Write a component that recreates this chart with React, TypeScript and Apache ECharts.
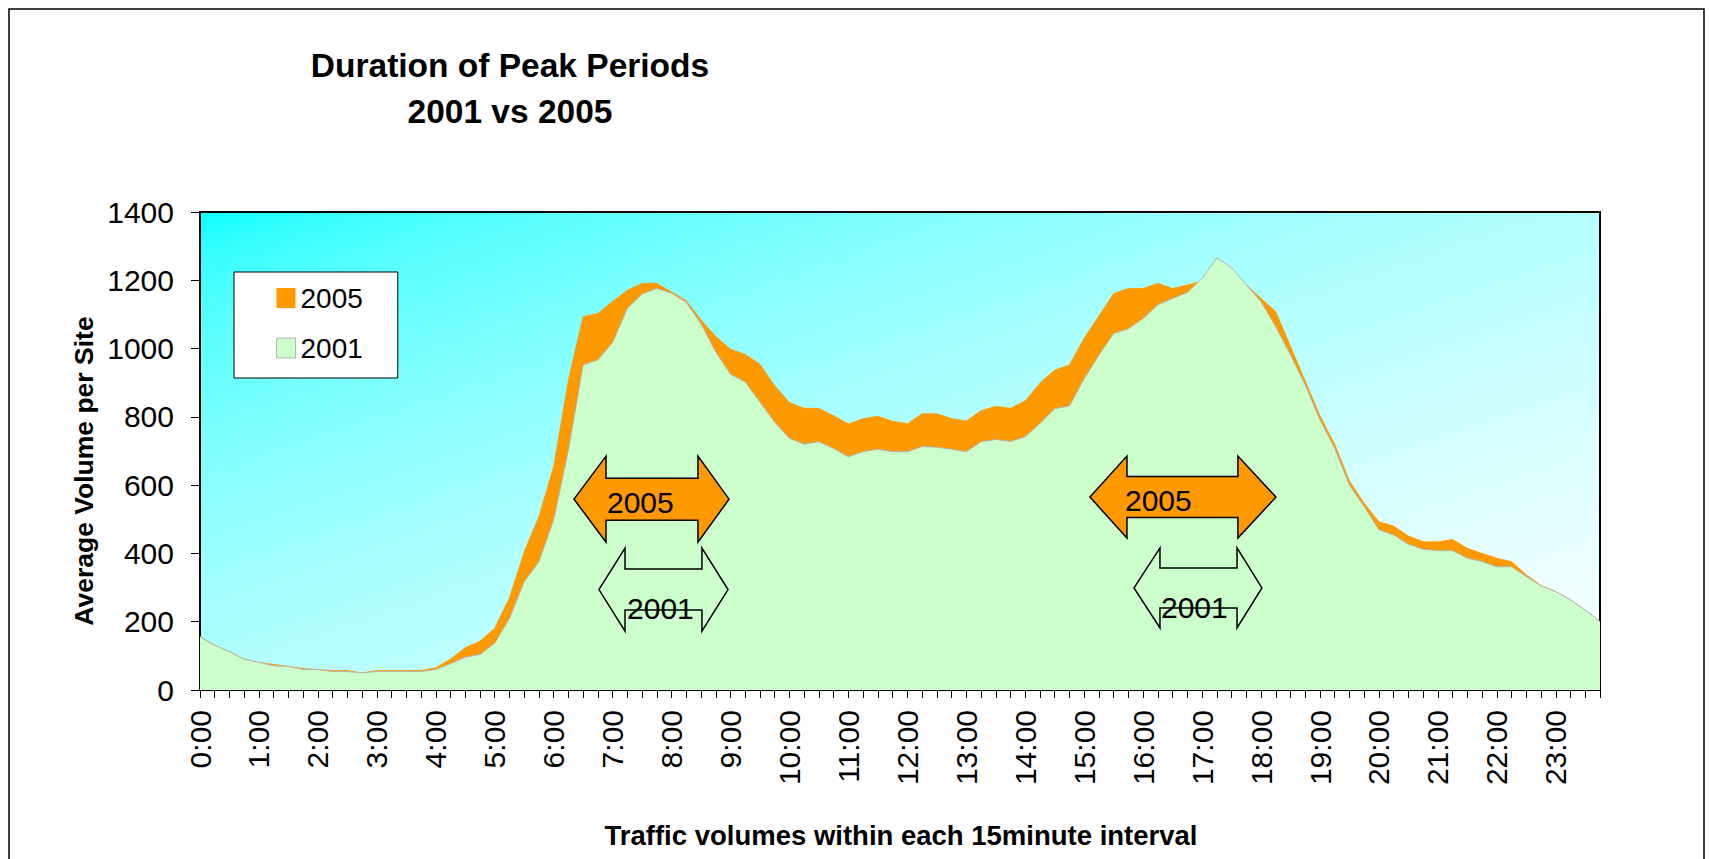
import React, { useEffect, useRef } from "react";
import * as echarts from "echarts";

const TIMES: string[] = [
  "0:00", "0:15", "0:30", "0:45", "1:00", "1:15", "1:30", "1:45",
  "2:00", "2:15", "2:30", "2:45", "3:00", "3:15", "3:30", "3:45",
  "4:00", "4:15", "4:30", "4:45", "5:00", "5:15", "5:30", "5:45",
  "6:00", "6:15", "6:30", "6:45", "7:00", "7:15", "7:30", "7:45",
  "8:00", "8:15", "8:30", "8:45", "9:00", "9:15", "9:30", "9:45",
  "10:00", "10:15", "10:30", "10:45", "11:00", "11:15", "11:30", "11:45",
  "12:00", "12:15", "12:30", "12:45", "13:00", "13:15", "13:30", "13:45",
  "14:00", "14:15", "14:30", "14:45", "15:00", "15:15", "15:30", "15:45",
  "16:00", "16:15", "16:30", "16:45", "17:00", "17:15", "17:30", "17:45",
  "18:00", "18:15", "18:30", "18:45", "19:00", "19:15", "19:30", "19:45",
  "20:00", "20:15", "20:30", "20:45", "21:00", "21:15", "21:30", "21:45",
  "22:00", "22:15", "22:30", "22:45", "23:00", "23:15", "23:30", "23:45",
];

const VOLUME_2005: number[] = [
  156, 131, 112, 90, 81, 75, 69, 63, 60, 57,
  57, 50, 57, 57, 57, 57, 65, 91, 124, 143,
  181, 270, 405, 508, 654, 908, 1094, 1103, 1138, 1171,
  1191, 1191, 1166, 1140, 1084, 1035, 998, 983, 954, 891,
  842, 825, 825, 803, 779, 795, 802, 787, 780, 809,
  809, 795, 788, 818, 831, 825, 847, 899, 937, 952,
  1030, 1096, 1161, 1176, 1176, 1191, 1176, 1186, 1198, 1210,
  1205, 1186, 1147, 1108, 1006, 905, 803, 720, 612, 547,
  493, 480, 451, 434, 434, 441, 415, 400, 386, 376,
  337, 306, 288, 264, 234, 200,
];

const VOLUME_2001: number[] = [
  156, 131, 112, 90, 81, 71, 69, 60, 60, 54,
  54, 50, 54, 54, 54, 54, 60, 77, 96, 104,
  137, 210, 317, 376, 498, 703, 952, 967, 1018, 1118,
  1160, 1176, 1162, 1135, 1072, 990, 925, 902, 843, 784,
  737, 720, 727, 707, 683, 698, 705, 698, 698, 713,
  711, 705, 698, 727, 734, 728, 742, 781, 824, 832,
  912, 981, 1044, 1058, 1088, 1128, 1147, 1164, 1206, 1266,
  1237, 1186, 1137, 1064, 981, 893, 791, 708, 600, 537,
  469, 454, 427, 412, 408, 408, 386, 376, 361, 361,
  332, 305, 288, 264, 234, 200,
];

const Y_MIN = 0;
const Y_MAX = 1400;
const Y_STEP = 200;

const SERIES_NAMES = ["2005", "2001"];
const TITLE_LINES = ["Duration of Peak Periods", "2001 vs 2005"];
const X_TITLE = "Traffic volumes within each 15minute interval";
const Y_TITLE = "Average Volume per Site";

// Peak-duration annotations: x in category-index units, centre in data units
const PEAK_ARROWS = [
  { label: "2005", filled: true, left: 25.38, headL: 27.55, headR: 33.79, right: 35.9, center: 559, head: 43, shaft: 21, textDx: 1, textDy: 3.5 },
  { label: "2001", filled: false, left: 27.07, headL: 28.84, headR: 34.06, right: 35.83, center: 294, head: 41.5, shaft: 20.5, textDx: 2, textDy: 19 },
  { label: "2005", filled: true, left: 60.39, headL: 62.9, headR: 70.43, right: 73.01, center: 565, head: 41, shaft: 20.5, textDx: -2, textDy: 3.5 },
  { label: "2001", filled: false, left: 63.38, headL: 65.14, headR: 70.37, right: 72.06, center: 299, head: 40, shaft: 20, textDx: 1, textDy: 19.5 },
];

const FONT = '"Liberation Sans", Arial, Helvetica, sans-serif';
const ORANGE = "#FF9900";
const GREEN = "#CCFFCC";

export default function App() {
  const ref = useRef<HTMLDivElement>(null);

  useEffect(() => {
    document.documentElement.style.margin = "0";
    document.documentElement.style.padding = "0";
    document.body.style.margin = "0";
    document.body.style.padding = "0";
    document.body.style.overflow = "hidden";

    const el = ref.current;
    if (!el) return;
    const chart = echarts.init(el, null, { renderer: "svg", width: 1709, height: 859 });

    const G = { left: 200, top: 212, width: 1400, height: 478 };
    const f = (2 * G.width * G.height) / (G.width * G.width + G.height * G.height);
    const bg = new echarts.graphic.LinearGradient(
      G.left,
      G.top,
      G.left + G.height * f,
      G.top + G.width * f,
      [
        { offset: 0, color: "#0CFFFF" },
        { offset: 0.05, color: "#39FFFF" },
        { offset: 0.12, color: "#58FFFF" },
        { offset: 0.25, color: "#80FFFF" },
        { offset: 0.4, color: "#A2FFFF" },
        { offset: 0.55, color: "#BDFFFF" },
        { offset: 0.7, color: "#D5FFFF" },
        { offset: 0.85, color: "#EBFFFF" },
        { offset: 1, color: "#FFFFFF" },
      ],
      true
    );

    chart.setOption({
      animation: false,
      backgroundColor: "#FFFFFF",
      textStyle: { fontFamily: FONT },
      grid: {
        left: G.left,
        top: G.top,
        width: G.width,
        height: G.height,
        show: true,
        backgroundColor: bg,
        borderColor: "#000000",
        borderWidth: 2,
        containLabel: false,
      },
      legend: {
        left: 234,
        top: 272,
        orient: "vertical",
        padding: [12, 35, 16, 42],
        itemWidth: 19,
        itemHeight: 20,
        itemGap: 22,
        backgroundColor: "#FFFFFF",
        borderColor: "#000000",
        borderWidth: 1,
        selectedMode: false,
        textStyle: { fontSize: 28, color: "#000000", fontFamily: FONT },
        data: [
          { name: SERIES_NAMES[0], icon: "rect", itemStyle: { color: ORANGE, borderWidth: 0 } },
          { name: SERIES_NAMES[1], icon: "rect", itemStyle: { color: GREEN, borderColor: "#B4B4B4", borderWidth: 1 } },
        ],
      },
      tooltip: { show: false },
      xAxis: {
        type: "category",
        data: TIMES,
        boundaryGap: false,
        axisLine: { show: true, lineStyle: { color: "#000000", width: 1.5 } },
        axisTick: { show: true, interval: 0, length: 8, lineStyle: { color: "#000000", width: 1 } },
        axisLabel: {
          interval: 3,
          rotate: 90,
          margin: 20,
          fontSize: 30,
          color: "#000000",
          fontFamily: FONT,
        },
        splitLine: { show: false },
      },
      yAxis: {
        type: "value",
        min: Y_MIN,
        max: Y_MAX,
        interval: Y_STEP,
        axisLine: { show: true, lineStyle: { color: "#000000", width: 1.5 } },
        axisTick: { show: true, length: 9, lineStyle: { color: "#000000", width: 1 } },
        axisLabel: {
          margin: 26,
          fontSize: 30,
          color: "#000000",
          fontFamily: FONT,
          formatter: (v: number) => String(v),
        },
        splitLine: { show: false },
      },
      series: [
        {
          name: SERIES_NAMES[0],
          type: "line",
          data: VOLUME_2005,
          symbol: "none",
          silent: true,
          z: 2,
          itemStyle: { color: ORANGE },
          lineStyle: { width: 0.8, color: ORANGE },
          areaStyle: { color: ORANGE, opacity: 1 },
        },
        {
          name: SERIES_NAMES[1],
          type: "line",
          data: VOLUME_2001,
          symbol: "none",
          silent: true,
          z: 3,
          itemStyle: { color: GREEN },
          lineStyle: { width: 1, color: "#B4B4B4" },
          areaStyle: { color: GREEN, opacity: 1 },
        },
      ],
    });

    const x0 = chart.convertToPixel({ xAxisIndex: 0 }, 0) as number;
    const xN = chart.convertToPixel({ xAxisIndex: 0 }, TIMES.length - 1) as number;
    const px = (idx: number) => x0 + (idx * (xN - x0)) / (TIMES.length - 1);
    const py = (v: number) => chart.convertToPixel({ yAxisIndex: 0 }, v) as number;

    const graphics: any[] = [];

    // outer frame
    graphics.push({
      type: "rect",
      z: 1,
      silent: true,
      shape: { x: 9, y: 9, width: 1695, height: 900 },
      style: { fill: "none", stroke: "#000000", lineWidth: 1.5 },
    });

    // titles
    TITLE_LINES.forEach((t, i) => {
      graphics.push({
        type: "text",
        z: 100,
        silent: true,
        x: 510,
        y: 65 + i * 46,
        style: {
          text: t,
          fill: "#000000",
          fontSize: 33.5,
          fontWeight: "bold",
          fontFamily: FONT,
          textAlign: "center",
          textVerticalAlign: "middle",
        },
      });
    });

    graphics.push({
      type: "text",
      z: 100,
      silent: true,
      x: 901,
      y: 835,
      style: {
        text: X_TITLE,
        fill: "#000000",
        fontSize: 27.5,
        fontWeight: "bold",
        fontFamily: FONT,
        textAlign: "center",
        textVerticalAlign: "middle",
      },
    });

    graphics.push({
      type: "text",
      z: 100,
      silent: true,
      x: 84,
      y: 471,
      rotation: Math.PI / 2,
      style: {
        text: Y_TITLE,
        fill: "#000000",
        fontSize: 26.5,
        fontWeight: "bold",
        fontFamily: FONT,
        textAlign: "center",
        textVerticalAlign: "middle",
      },
    });

    PEAK_ARROWS.forEach((a) => {
      const L = px(a.left);
      const HL = px(a.headL);
      const HR = px(a.headR);
      const R = px(a.right);
      const C = py(a.center);
      const pts = [
        [L, C],
        [HL, C - a.head],
        [HL, C - a.shaft],
        [HR, C - a.shaft],
        [HR, C - a.head],
        [R, C],
        [HR, C + a.head],
        [HR, C + a.shaft],
        [HL, C + a.shaft],
        [HL, C + a.head],
      ];
      graphics.push({
        type: "polygon",
        z: 100,
        silent: true,
        shape: { points: pts },
        style: {
          fill: a.filled ? ORANGE : "none",
          stroke: "#000000",
          lineWidth: 1.5,
          lineJoin: "miter",
        },
      });
      graphics.push({
        type: "text",
        z: 101,
        silent: true,
        x: HL + a.textDx,
        y: C + a.textDy,
        style: {
          text: a.label,
          fill: "#000000",
          fontSize: 30,
          fontFamily: FONT,
          textAlign: "left",
          textVerticalAlign: "middle",
        },
      });
    });

    chart.setOption({ graphic: graphics });

    return () => {
      chart.dispose();
    };
  }, []);

  return (
    <div
      ref={ref}
      style={{ position: "absolute", left: 0, top: 0, width: 1709, height: 859, background: "#FFFFFF" }}
    />
  );
}
